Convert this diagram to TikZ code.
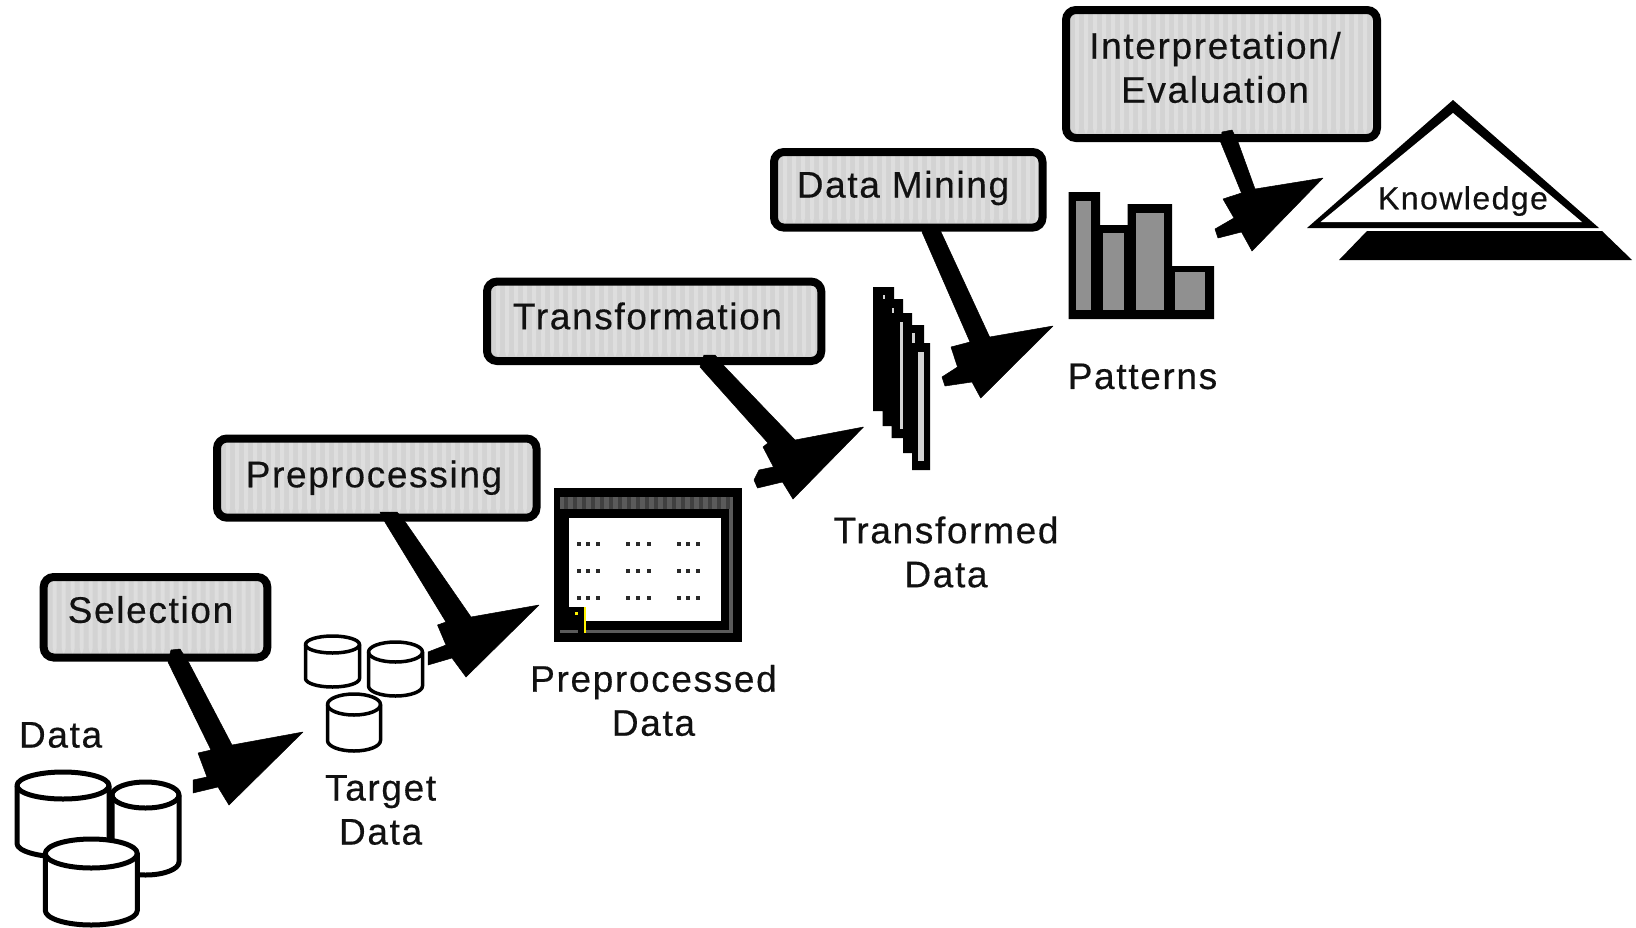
\documentclass[tikz,border=0pt]{standalone}
\usepackage{fontspec}
\setmainfont[LetterSpace=4.5,FakeBold=0.4]{Liberation Sans}
\definecolor{boxgray}{HTML}{D3D3D3}
\definecolor{stripegray}{HTML}{DEDEDE}
\definecolor{bargray}{HTML}{909090}
\definecolor{wingray}{HTML}{5A5A5A}
\definecolor{windark}{HTML}{404040}
\definecolor{inkblack}{HTML}{111111}
\tikzset{
  stepbox/.style={draw=black,line width=8pt,rounded corners=10pt,fill=boxgray,inner sep=0pt,
    path picture={\foreach \i in {0,9,...,360}{\fill[stripegray] ([xshift=\i pt]path picture bounding box.south west) rectangle ++(4pt,140pt);}}},
  lbl/.style={inner sep=0pt,text=inkblack,align=center,font=\fontsize{37}{44}\selectfont},
  smalllbl/.style={inner sep=0pt,text=inkblack,font=\fontsize{32}{38}\selectfont},
  pointer/.style={fill=black,draw=black,line width=0.5pt,line join=round},
  can/.style={draw=black,fill=white,line join=round},
}
\newcommand{\cancyl}[6]{% x1 x2 ytop ybottom-of-ellipse ybottom lw
  \path[can,line width=#6pt]
    (#1,{(#3+#4)/2}) arc[x radius={(#2-#1)/2},y radius={(#4-#3)/2},start angle=180,end angle=360]
    -- (#2,{#5-(#4-#3)/2}) arc[x radius={(#2-#1)/2},y radius={(#4-#3)/2},start angle=0,end angle=180] -- cycle;
  \draw[line width=#6pt] (#1,{(#3+#4)/2}) arc[x radius={(#2-#1)/2},y radius={(#4-#3)/2},start angle=180,end angle=0];
}
\begin{document}
\begin{tikzpicture}[x=1pt,y=-1pt]
\useasboundingbox (0,0) rectangle (1636,927);
\fill[white] (0,0) rectangle (1636,927);

% boxes
\node[stepbox,minimum width=223.6pt,minimum height=80.5pt] (selbox) at (155.5,617.25) {};
\node[stepbox,minimum width=319.5pt,minimum height=79.2pt] (prebox) at (376.75,478.1) {};
\node[stepbox,minimum width=334.3pt,minimum height=79.4pt] (trabox) at (654.15,321.3) {};
\node[stepbox,minimum width=268.5pt,minimum height=75.6pt] (minbox) at (908.25,189.8) {};
\node[stepbox,minimum width=311pt,minimum height=128pt] (intbox) at (1221.5,74) {};

% box labels
\node[lbl] (seltxt) at (150.5,609.6) {Selection};
\node[lbl] (pretxt) at (374,477.7) {Preprocessing};
\node[lbl] (tratxt) at (647.5,316) {Transformation};
\node[lbl] (mintxt) at (903,188) {Data Mining};
\node[lbl] (inttxt) at (1215,67.5) {Interpretation/\\Evaluation};

% arrows
\fill[pointer] (171,650) -- (180,649) -- (189,663) -- (232,745) -- (303,732) -- (229,805) -- (218,787) -- (193,793) -- (193,780) -- (207,777) -- (198,753) -- (211,750) -- (168,662) -- cycle;
\fill[pointer] (380,512) -- (397,512) -- (406,523) -- (471,617) -- (539,605) -- (466,677) -- (452,658) -- (428,665) -- (428,652) -- (446,645) -- (437.5,625) -- (446,622) -- (385.5,523) -- cycle;
\fill[pointer] (704,355) -- (715,355) -- (725,367) -- (795,440) -- (863.5,427) -- (793,499) -- (782.5,482) -- (757.5,488) -- (754,480) -- (759,470) -- (773.5,467) -- (763,447) -- (768,443) -- (700,367) -- cycle;
\fill[pointer] (925,225) -- (938,225) -- (941,232) -- (989.6,337) -- (1053,326) -- (980.7,398) -- (972,382) -- (945,386) -- (942,377) -- (957.5,367) -- (951,347) -- (970,342) -- (922,232) -- cycle;
\fill[pointer] (1222,132) -- (1232,130) -- (1238,142) -- (1255,189) -- (1323,178) -- (1252,251) -- (1241.5,232) -- (1218,238) -- (1215,229) -- (1234,218) -- (1223,199) -- (1241.5,193) -- (1220.6,142) -- cycle;

% data cylinders
\cancyl{112}{179}{782}{808}{875}{5}
\cancyl{17}{109}{772}{799}{857}{5}
\cancyl{45.3}{137.3}{839}{868}{925}{5}
\node[lbl] (datatxt) at (60.6,735) {Data};

% target cylinders
\cancyl{305.5}{359.5}{636}{653}{687}{3.5}
\cancyl{368.5}{422.5}{642}{662}{696}{3.5}
\cancyl{327.5}{380.5}{694}{715}{751}{3.5}
\node[lbl] (targettxt) at (380.6,810) {Target\\Data};

% preprocessed window
\fill[black] (554,488.3) rectangle (742,641.7);
\fill[wingray] (560,497) rectangle (733,509);
\foreach \xx in {564,573,...,730}
  \fill[windark] (\xx,497) rectangle (\xx+4,509);
\fill[wingray] (729,509) rectangle (733,633);
\fill[wingray] (586,630) rectangle (733,633);
\fill[wingray] (560,630) rectangle (578,633);
\fill[white] (569,517.7) rectangle (721,621);
\fill[black] (569,607) rectangle (584,621);
\fill[yellow] (584,607) rectangle (586,633);
\fill[yellow] (575,612) rectangle (578,615);
\foreach \yy in {544,571,598}
  \foreach \xx in {579,588,598,628,638,649,679,688,698}
    \fill[inkblack!90] (\xx-2,\yy-2) rectangle (\xx+2,\yy+2);
\node[lbl] (pretgt) at (653.5,700.5) {Preprocessed\\Data};

% transformed stack
\fill[black] (873,287) -- (894,287) -- (894,299) -- (903,299) -- (903,313) -- (912,313) -- (912,325) -- (924,325) -- (924,343) -- (930,343) -- (930,470) -- (912,470) -- (912,453) -- (903,453) -- (903,438) -- (891.5,438) -- (891.5,426) -- (882.5,426) -- (882.5,411) -- (873,411) -- cycle;
\fill[boxgray] (917.5,352) rectangle (924,461);
\fill[boxgray] (900,322) rectangle (903,429);
\fill[boxgray] (912,333) rectangle (915,343);
\fill[boxgray] (891.5,308) rectangle (894,313);
\fill[boxgray] (882.5,295) rectangle (885,299);
\node[lbl] (tratgt) at (946,552) {Transformed\\Data};

% patterns
\fill[black] (1068.5,192) -- (1100,192) -- (1100,225) -- (1127.5,225) -- (1127.5,204) -- (1172,204) -- (1172,266) -- (1214,266) -- (1214,319) -- (1068.5,319) -- cycle;
\fill[bargray] (1076,201) rectangle (1091,310);
\fill[bargray] (1103,233) rectangle (1124.4,310);
\fill[bargray] (1136,213) rectangle (1163.6,310);
\fill[bargray] (1175,272) rectangle (1205,310);
\node[lbl] (pattxt) at (1142.5,376.4) {Patterns};

% knowledge
\fill[black] (1453,100) -- (1599,228) -- (1307,228) -- cycle;
\fill[white] (1453,113) -- (1582,222) -- (1320.6,222) -- cycle;
\fill[black] (1367,231) -- (1602,231) -- (1632,260) -- (1339,260) -- cycle;
\node[smalllbl] (kntxt) at (1463,201) {Knowledge};
\end{tikzpicture}
\end{document}
